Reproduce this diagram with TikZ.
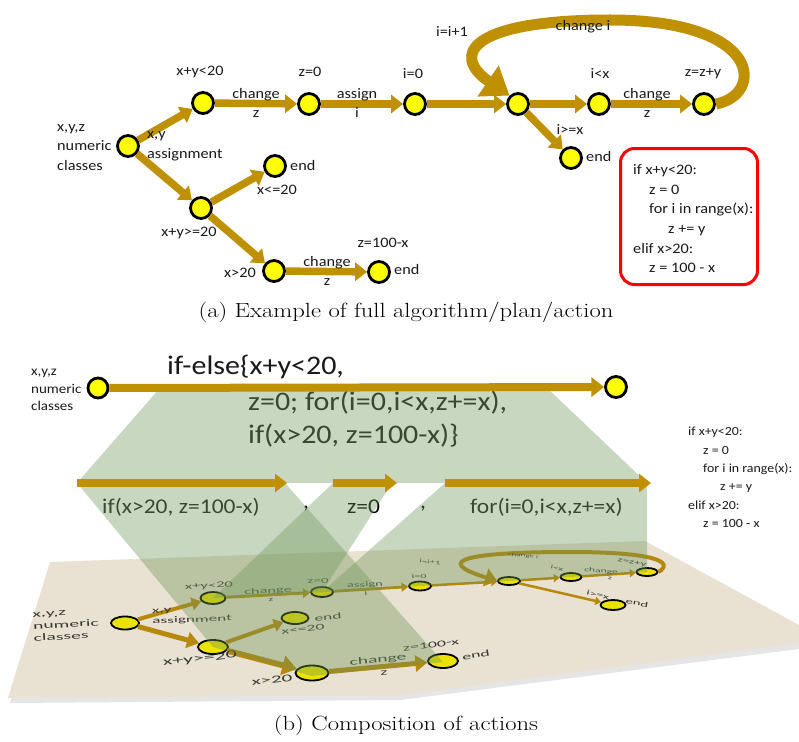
\documentclass[tikz,border=0pt]{standalone}
\usepackage{fontspec}
\newfontfamily\cfont[FakeStretch=1.12]{Carlito}
\newfontfamily\pfont[FakeStretch=2]{Carlito}
\newfontfamily\capfont[FakeStretch=1.2]{Latin Modern Roman}
\usetikzlibrary{arrows.meta,shapes.geometric}
\definecolor{gold}{RGB}{191,144,0}
\definecolor{pgold}{RGB}{182,136,12}
\definecolor{ylw}{RGB}{255,255,0}
\definecolor{pylw}{RGB}{236,226,0}
\definecolor{beige}{RGB}{233,225,209}
\definecolor{grn}{RGB}{110,150,90}
\definecolor{txt}{RGB}{25,25,25}
\definecolor{ptxt}{RGB}{55,55,50}
\tikzset{
  anode/.style={circle,draw=black,line width=2.8,fill=ylw,minimum size=21,inner sep=0},
  aedge/.style={draw=gold,line width=#1,-{Triangle[length=0pt 1.6,width=0pt 2.4]}},
  aedge/.default=7.5,
  atext/.style={font=\cfont\fontsize{14.5}{19.6}\selectfont,text=txt,inner sep=0,align=center},
  pnode/.style={ellipse,draw=black,line width=1.8,fill=pylw,inner sep=0},
  pedge/.style={draw=pgold,line width=#1,-{Triangle[length=0pt 2.4,width=0pt 3.2]}},
  plab/.style={font=\pfont\fontsize{#1}{#1}\selectfont,text=ptxt,inner sep=0},
  gpoly/.style={fill=grn,fill opacity=0.38},
  captext/.style={font=\capfont\fontsize{20.5}{24}\selectfont,anchor=base,inner sep=0},
}
\begin{document}
\begin{tikzpicture}[x=1pt,y=-1pt]
\useasboundingbox (0,0) rectangle (799,741);

% ================= (a) =================
\node[anode] (a0) at (128,146) {};
\node[anode] (a1) at (203,103) {};
\node[anode] (a2) at (309,104) {};
\node[anode] (a3) at (415,104) {};
\node[anode] (a4) at (518,104) {};
\node[anode] (a5) at (599,104) {};
\node[anode] (a6) at (704,104) {};
\node[anode] (a7) at (571,158) {};
\node[anode] (a8) at (275,166) {};
\node[anode] (a9) at (201,208) {};
\node[anode] (a10) at (274,271) {};
\node[anode] (a11) at (379,272) {};

\draw[aedge] (a0) -- (a1);
\draw[aedge] (a0) -- (a9);
\draw[aedge] (a1) -- (a2);
\draw[aedge] (a2) -- (a3);
\draw[aedge] (a3) -- (a4);
\draw[aedge] (a4) -- (a5);
\draw[aedge] (a5) -- (a6);
\draw[aedge] (a4) -- (a7);
\draw[aedge] (a9) -- (a8);
\draw[aedge] (a9) -- (a10);
\draw[aedge] (a10) -- (a11);
\draw[draw=gold,line width=11,-{Triangle[length=26pt,width=36pt]}]
  (a6.east) .. controls (764,95) and (764,20) .. (610,20)
  .. controls (470,20) and (450,55) .. (a4.north west);

\node[atext,anchor=west,align=left] (la20) at (57,147.5) {x,y,z\\numeric\\classes};
\node[atext,anchor=west,align=left] (la21) at (147,146) {x,y\\assignment};
\node[atext] (la1) at (200,72) {x+y<20};
\node[atext] (la2) at (310,72) {z=0};
\node[atext] (la3) at (256,103) {change\\z};
\node[atext] (la4) at (357,103) {assign\\i};
\node[atext] (la5) at (413,74) {i=0};
\node[atext] (la6) at (600,74) {i<x};
\node[atext] (la7) at (703,74) {z=z+y};
\node[atext] (la8) at (647,103) {change\\z};
\node[atext] (la9) at (452,32) {i=i+1};
\node[atext] (la10) at (583,27) {change i};
\node[atext] (la11) at (570,130) {i>=x};
\node[atext,anchor=west] (la12) at (586,157) {end};
\node[atext,anchor=west] (la13) at (290,166) {end};
\node[atext] (la14) at (277,190) {x<=20};
\node[atext] (la15) at (189,233) {x+y>=20};
\node[atext] (la16) at (240,273) {x>20};
\node[atext] (la17) at (327,271) {change\\z};
\node[atext] (la18) at (383,243) {z=100-x};
\node[atext,anchor=west] (la19) at (394,270) {end};

\node[draw=red,line width=3,rounded corners=14,minimum width=137,minimum height=136,inner sep=0] (redbox) at (689,216.5) {};
\node[atext,anchor=north west,align=left] (codea) at (633,164.5)
  {if x+y<20:\\\hspace*{16pt}z = 0\\\hspace*{16pt}for i in range(x):\\\hspace*{35pt}z += y\\elif x>20:\\\hspace*{16pt}z = 100 - x};

\node[captext] (capa) at (406,317) {(a) Example of full algorithm/plan/action};

% ================= (b) plane =================
\fill[black,opacity=0.10] (53,567) -- (648,546) -- (799,631) -- (799,649) -- (400,700) -- (10,703) -- cycle;
\fill[beige] (50,562) -- (645,541) -- (799,625) -- (799,643) -- (400,695) -- (8,698) -- cycle;

\node[pnode,minimum width=28,minimum height=13] (p0) at (125,623) {};
\node[pnode,minimum width=25,minimum height=12] (p1) at (213,598) {};
\node[pnode,minimum width=22,minimum height=10] (p2) at (322,592) {};
\node[pnode,minimum width=22,minimum height=9] (p3) at (420,586) {};
\node[pnode,minimum width=22,minimum height=8] (p4) at (509,581) {};
\node[pnode,minimum width=21,minimum height=8] (p5) at (571,577) {};
\node[pnode,minimum width=21,minimum height=8] (p6) at (647,572) {};
\node[pnode,minimum width=25,minimum height=10] (p7) at (613,605) {};
\node[pnode,minimum width=27,minimum height=12] (p8) at (295,618) {};
\node[pnode,minimum width=30,minimum height=14] (p9) at (213,647) {};
\node[pnode,minimum width=33,minimum height=15] (p10) at (312,673) {};
\node[pnode,minimum width=30,minimum height=14] (p11) at (443,661) {};

\draw[pedge=5] (p0) -- (p9);
\draw[pedge=4] (p0) -- (p1);
\draw[pedge=3] (p1) -- (p2);
\draw[pedge=2.8] (p2) -- (p3);
\draw[pedge=2.5] (p3) -- (p4);
\draw[pedge=2.5] (p4) -- (p5);
\draw[pedge=2.5] (p5) -- (p6);
\draw[pedge=2.5] (p4) -- (p7);
\draw[pedge=4] (p9) -- (p8);
\draw[pedge=6] (p9) -- (p10);
\draw[pedge=5] (p10) -- (p11);
\draw[draw=pgold,line width=4,-{Triangle[length=12pt,width=18pt]}]
  (p6.east) .. controls (675,562) and (655,552) .. (570,552)
  .. controls (470,552) and (430,560) .. (p4.west);

\node[plab=9.8,font=\pfont\fontsize{9.8}{12}\selectfont,rotate=3,anchor=west,align=left] (q1) at (33,627) {x,y,z\\numeric\\classes};
\node[plab=8.6,font=\pfont\fontsize{8.6}{10.5}\selectfont,rotate=2,anchor=west,align=left] (q4) at (152,617) {x,y\\assignment};
\node[plab=8.3,rotate=3] (q6) at (209,586) {x+y<20};
\node[plab=8.2,rotate=3] (q7) at (268,591) {change};
\node[plab=6,rotate=3] (q8) at (271,600) {z};
\node[plab=7.5,rotate=3] (q9) at (318,581) {z=0};
\node[plab=7.2,rotate=3] (q10) at (365,585) {assign};
\node[plab=6,rotate=3] (q11) at (366,593) {i};
\node[plab=8.7,rotate=5] (q12) at (328,617) {end};
\node[plab=8.8,rotate=6] (q13) at (303,629) {x<=20};
\node[plab=10.9,rotate=6] (q14) at (200,659) {x+y>=20};
\node[plab=10.5,rotate=7] (q15) at (272,680) {x>20};
\node[plab=9.8,rotate=5] (q16) at (378,660) {change};
\node[plab=9,rotate=5] (q17) at (384,673) {z};
\node[plab=9,rotate=8] (q18) at (431,645) {z=100-x};
\node[plab=9,rotate=10] (q19) at (476,655) {end};
\node[plab=5.3,rotate=-5] (q20) at (430,562) {i=i+1};
\node[plab=6] (q21) at (419,576) {i=0};
\node[plab=4.5,rotate=-5] (q22) at (523,556) {change i};
\node[plab=5.6,rotate=-12] (q23) at (557,568) {i<x};
\node[plab=5.8,rotate=-5] (q24) at (601,571) {change};
\node[plab=5,rotate=-5] (q25) at (610,578) {z};
\node[plab=6.5,rotate=-10] (q26) at (632,563) {z=z+y};
\node[plab=7,rotate=-15] (q27) at (598,595) {i>=x};
\node[plab=7.4,rotate=-10] (q28) at (637,603) {end};

% ================= (b) texts =================
\node[font=\cfont\fontsize{13.4}{17.5}\selectfont,text=txt,align=left,anchor=west,inner sep=0] (tb0) at (31,390) {x,y,z\\numeric\\classes};
\node[font=\cfont\fontsize{26.8}{30}\selectfont,text=txt,anchor=base west,inner sep=0] (tb1) at (167,374) {if-else\{x+y<20,};
\node[font=\cfont\fontsize{26.8}{30}\selectfont,text=txt,anchor=base west,inner sep=0] (tb2) at (248,410) {z=0; for(i=0,i<x,z+=x),};
\node[font=\cfont\fontsize{26.8}{30}\selectfont,text=txt,anchor=base west,inner sep=0] (tb3) at (248,443) {if(x>20, z=100-x)\}};
\node[font=\cfont\fontsize{21}{24}\selectfont,text=txt,anchor=base west,inner sep=0] (tb4) at (102,513) {if(x>20, z=100-x)};
\node[font=\cfont\fontsize{21}{24}\selectfont,text=black,anchor=base west,inner sep=0] (tb5) at (347,513) {z=0};
\node[font=\cfont\fontsize{21}{24}\selectfont,text=txt,anchor=base west,inner sep=0] (tb6) at (470,513) {for(i=0,i<x,z+=x)};
\node[font=\cfont\fontsize{21}{24}\selectfont,text=black,anchor=base,inner sep=0] (tb7) at (306,508) {,};
\node[font=\cfont\fontsize{21}{24}\selectfont,text=black,anchor=base,inner sep=0] (tb8) at (423,508) {,};
\node[font=\cfont\fontsize{12.4}{18.4}\selectfont,text=txt,align=left,anchor=north west,inner sep=0] (codeb) at (688,427)
  {if x+y<20:\\\hspace*{15pt}z = 0\\\hspace*{15pt}for i in range(x):\\\hspace*{32pt}z += y\\elif x>20:\\\hspace*{15pt}z = 100 - x};

% ================= (b) green projections =================
\fill[gpoly] (160,388) -- (547,388) -- (647,483) -- (77,483) -- cycle;
\fill[gpoly] (77,483) -- (285,483) -- (443,662) -- (312,676) -- (213,647) -- cycle;
\fill[gpoly] (333,483) -- (392,483) -- (322,592) -- (213,598) -- cycle;
\fill[gpoly] (445,483) -- (647,483) -- (647,572) -- (509,581) -- (420,586) -- (322,592) -- cycle;

% ================= (b) arrows =================
\node[anode,minimum size=20] (b0) at (98,388) {};
\node[anode] (b1) at (616,387) {};
\draw[aedge=8] (b0) -- (b1);
\coordinate (s1) at (77,483);
\coordinate (e1) at (287,483);
\coordinate (s2) at (333,483);
\coordinate (e2) at (397,483);
\coordinate (s3) at (445,483);
\coordinate (e3) at (651,483);
\draw[aedge=7.5] (s1) -- (e1);
\draw[aedge=7.5] (s2) -- (e2);
\draw[aedge=7.5] (s3) -- (e3);

\node[captext] (capb) at (406,730) {(b) Composition of actions};
\end{tikzpicture}
\end{document}
